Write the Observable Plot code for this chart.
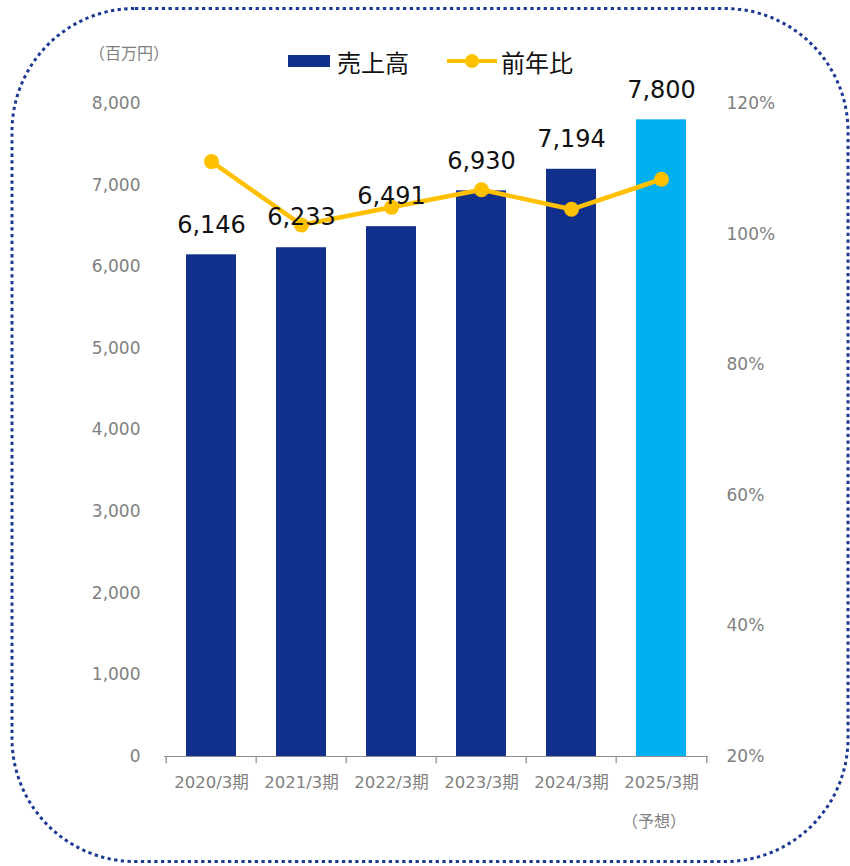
<!DOCTYPE html>
<html>
<head>
<meta charset="utf-8">
<script src="https://cdn.jsdelivr.net/npm/d3@7"></script>
<script src="https://cdn.jsdelivr.net/npm/@observablehq/plot@0.6"></script>
<style>
  html, body { margin: 0; padding: 0; background: #fff; }
  #wrap { position: relative; width: 850px; height: 866px; font-family: "DejaVu Sans", "Noto Sans CJK JP", sans-serif; }
  #chart { position: absolute; left: 0; top: 0; }
  .abs { position: absolute; white-space: nowrap; }
  #unit { left: 89px; top: 43px; font-size: 16px; color: #7f7f7f; line-height: 22px; }
  #forecast { left: 622px; top: 811px; font-size: 16px; color: #7f7f7f; line-height: 22px; }
  #legend { left: 288px; top: 44px; height: 34px; display: flex; align-items: center; font-size: 24px; color: #111; }
  .sw-bar { width: 42px; height: 12px; background: #10308B; margin-right: 7px; }
  .sw-line { position: relative; width: 50px; height: 14px; margin-left: 38px; margin-right: 4px; }
  .sw-line::before { content: ""; position: absolute; left: 0; right: 0; top: 5px; height: 4px; background: #FFC000; }
  .sw-line::after { content: ""; position: absolute; left: 18px; top: 0; width: 14px; height: 14px; border-radius: 50%; background: #FFC000; }
  #border { position: absolute; left: 0; top: 0; pointer-events: none; }
</style>
</head>
<body>
<div id="wrap">
  <div id="chart"></div>
  <div class="abs" id="unit">（百万円）</div>
  <div class="abs" id="legend"><div class="sw-bar"></div><span>売上高</span><div class="sw-line"></div><span>前年比</span></div>
  <div class="abs" id="forecast">（予想）</div>
  <svg id="border" width="850" height="866">
    <rect x="12" y="8.5" width="836" height="853" rx="123" ry="123" fill="none" stroke="#1B3A94" stroke-width="3" stroke-dasharray="3.3 3.4"/>
  </svg>
</div>
<script>
const categories = ["2020/3期", "2021/3期", "2022/3期", "2023/3期", "2024/3期", "2025/3期"];
const sales = [6146, 6233, 6491, 6930, 7194, 7800];
const growthPct = [111.1, 101.4, 104.1, 106.8, 103.8, 108.4];
const forecast = [false, false, false, false, false, true];
const leftTicks = [0, 1000, 2000, 3000, 4000, 5000, 6000, 7000, 8000];
const rightTicks = [20, 40, 60, 80, 100, 120];

const yMax = 8000, pMin = 20, pMax = 120;
const pctToY = p => (p - pMin) / (pMax - pMin) * yMax;
const yToPct = v => v / yMax * (pMax - pMin) + pMin;

const data = categories.map((c, i) => ({
  cat: c, sales: sales[i], pct: growthPct[i], forecast: forecast[i]
}));

const gray = "#808080";
const navy = "#10308B";
const sky = "#00B0F0";
const gold = "#FFC000";

const plot = Plot.plot({
  width: 850,
  height: 866,
  marginLeft: 164,
  marginRight: 142,
  marginTop: 103,
  marginBottom: 110,
  style: { fontFamily: '"DejaVu Sans", "Noto Sans CJK JP", sans-serif', background: "transparent", overflow: "visible" },
  x: { domain: categories, paddingInner: 0.45, paddingOuter: 0.225, label: null },
  y: { domain: [0, yMax], label: null },
  marks: [
    Plot.axisY({ ticks: leftTicks, tickSize: 0, tickPadding: 24, tickFormat: d3.format(","), fontSize: 17, color: gray, label: null }),
    Plot.axisY({ anchor: "right", ticks: rightTicks.map(pctToY), tickSize: 0, tickPadding: 18, tickFormat: v => Math.round(yToPct(v)) + "%", fontSize: 17, color: gray, label: null }),
    Plot.axisX({ tickSize: 0, tickPadding: 20, fontSize: 16.5, color: gray, label: null }),
    Plot.barY(data, { x: "cat", y: "sales", fill: d => d.forecast ? sky : navy }),
    Plot.ruleY([0], { stroke: "#8c8c8c", strokeWidth: 1.2 }),
    Plot.ruleX(categories, { x: d => d, y1: 0, y2: -90, dx: -45.3, stroke: "#8c8c8c", strokeWidth: 1.2 }),
    Plot.ruleX(categories.slice(-1), { x: d => d, y1: 0, y2: -90, dx: 45.3, stroke: "#8c8c8c", strokeWidth: 1.2 }),
    Plot.line(data, { x: "cat", y: d => pctToY(d.pct), stroke: gold, strokeWidth: 4.5 }),
    Plot.dot(data, { x: "cat", y: d => pctToY(d.pct), r: 7.5, fill: gold, stroke: "none" }),
    Plot.text(data, { x: "cat", y: "sales", text: d => d3.format(",")(d.sales), dy: -30, fontSize: 24, fill: "#111" })
  ]
});
document.getElementById("chart").appendChild(plot);
</script>
</body>
</html>
